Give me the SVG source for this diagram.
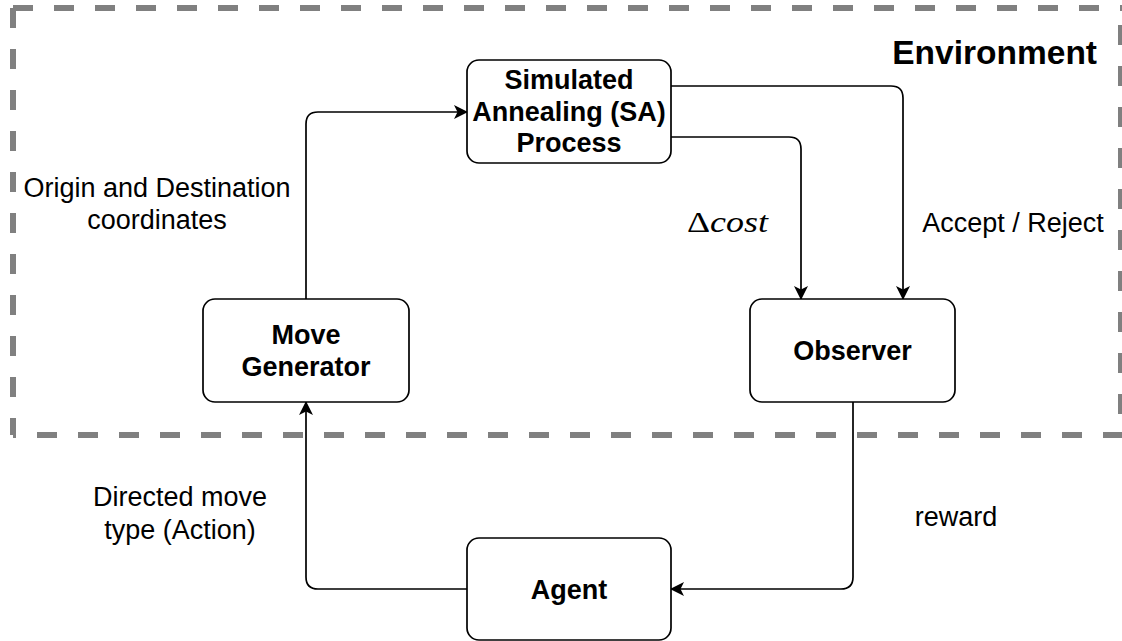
<svg xmlns="http://www.w3.org/2000/svg" width="1122" height="641" viewBox="0 0 1122 641">
<style>
.box{fill:#fff;stroke:#000;stroke-width:1.7}
.env{fill:none;stroke:#808080;stroke-width:6;stroke-dasharray:20 21}
.edge{fill:none;stroke:#000;stroke-width:1.7}
.b{font-family:"Liberation Sans",Arial,sans-serif;font-weight:bold;font-size:27px;fill:#000;text-anchor:middle}
.r{font-family:"Liberation Sans",Arial,sans-serif;font-size:27px;fill:#000;text-anchor:middle}
.m{font-family:"Liberation Serif","Times New Roman",serif;font-size:29px;fill:#000}
</style>
<defs>
<marker id="arr" markerUnits="userSpaceOnUse" viewBox="0 0 14 14" markerWidth="14" markerHeight="14" refX="13" refY="7" orient="auto">
<path d="M0,0 L14,7 L0,14 L3.5,7 Z" fill="#000"/>
</marker>
</defs>
<g id="environment">
<path class="env" d="M13,8 H1122"/>
<path class="env" d="M1121,8 V435" stroke-dashoffset="24"/>
<path class="env" d="M13,435 H1122" stroke-dashoffset="17"/>
<path class="env" d="M13,8 V435"/>
<text x="1097" y="64" font-family="Liberation Sans,Arial,sans-serif" font-weight="bold" font-size="33.5" text-anchor="end">Environment</text>
</g>
<g id="connectors">
<path class="edge" marker-end="url(#arr)" d="M306,299 V124 Q306,112 318,112 H467"/>
<path class="edge" marker-end="url(#arr)" d="M671,86 H891 Q903,86 903,98 V299"/>
<path class="edge" marker-end="url(#arr)" d="M671,137 H789 Q801,137 801,149 V299"/>
<path class="edge" marker-end="url(#arr)" d="M853,402 V577 Q853,589 841,589 H671"/>
<path class="edge" marker-end="url(#arr)" d="M467,589 H318 Q306,589 306,577 V402"/>
<text class="r" x="157" y="197">Origin and Destination</text>
<text class="r" x="157" y="229">coordinates</text>
<text class="m" x="687" y="232" textLength="81" lengthAdjust="spacingAndGlyphs">Δ<tspan font-style="italic">cost</tspan></text>
<text class="r" x="1013" y="232">Accept / Reject</text>
<text class="r" x="180" y="506">Directed move</text>
<text class="r" x="180" y="539">type (Action)</text>
<text class="r" x="956" y="526">reward</text>
</g>
<g id="sa">
<rect class="box" x="467" y="60" width="204" height="103" rx="12"/>
<text class="b" x="569" y="89">Simulated</text>
<text class="b" x="569" y="120.5">Annealing (SA)</text>
<text class="b" x="569" y="152">Process</text>
</g>
<g id="move-generator">
<rect class="box" x="203" y="299" width="206" height="103" rx="12"/>
<text class="b" x="306" y="344">Move</text>
<text class="b" x="306" y="376">Generator</text>
</g>
<g id="observer">
<rect class="box" x="750" y="299" width="205" height="103" rx="12"/>
<text class="b" x="852.5" y="360">Observer</text>
</g>
<g id="agent">
<rect class="box" x="467" y="538" width="204" height="102" rx="12"/>
<text class="b" x="569" y="598.5">Agent</text>
</g>
</svg>
